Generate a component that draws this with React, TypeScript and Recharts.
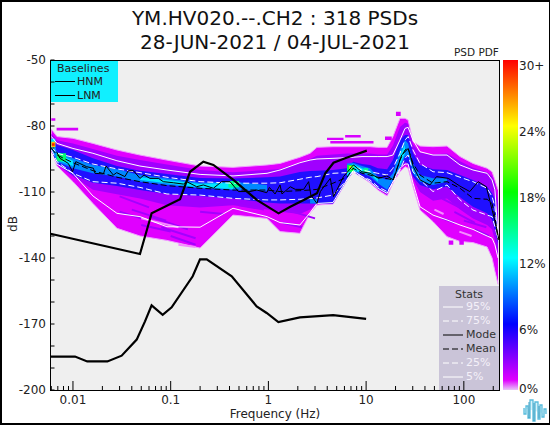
import { Area, ComposedChart, Line, XAxis, YAxis } from 'recharts';

const freqs = [
  0.00603, 0.00686, 0.01, 0.016, 0.0282, 0.0485, 0.0916, 0.2, 0.4345, 0.968, 1.315, 2.1, 2.67, 3.14, 4.58, 6.37, 7.35,
  9.08, 10.96, 13.2, 16.4, 18.8, 22.2, 25, 26.9, 30.2, 35.6, 48.4, 67.3, 91.4, 124, 173, 194.5, 208, 224,
];

const p95 = [
  -84.8, -87.9, -90.2, -92.4, -95.8, -98.2, -100, -102, -102.7, -101.5, -100, -96.7, -95.5, -95, -94.7, -94.4, -94.2,
  -93.9, -93.9, -93.9, -93.9, -93.2, -86.4, -81.1, -80.6, -86.4, -91.7, -93.2, -93.2, -97.7, -100, -101.5, -104.5, -109, -130,
];
const p75 = [
  -89.4, -92.4, -94.2, -97.3, -99.5, -101.2, -103.3, -105.3, -106, -106, -105.8, -104.2, -103.3, -103, -101.5, -101.2, -98.2,
  -100, -100.8, -101.5, -102.3, -99.2, -92.4, -86.4, -84.8, -90.9, -97, -100.8, -101.2, -103.3, -105.3, -108.3, -112.1, -116.7, -131.8,
];
const meanDb = [
  -90.2, -93.2, -96.7, -100.3, -103.3, -105.3, -107.1, -108.3, -109.1, -109.1, -109.8, -109.4, -109.1, -108.8, -106, -103.3, -99.2,
  -101.5, -102.3, -103.3, -103.9, -104.5, -95.5, -90.9, -90.2, -97, -102.3, -106, -105.3, -108.3, -112.9, -113.3, -115.2, -121.2, -131.8,
];
const p25 = [
  -90.9, -96.2, -101.5, -105.3, -106, -107.9, -110.9, -111.4, -112.9, -113.6, -113.6, -113.3, -113, -112.7, -111.4, -104.5, -100.8,
  -103, -104.5, -107.6, -109.8, -106, -100, -94.7, -93.2, -100.8, -104.5, -109.8, -106.8, -113.6, -118.2, -120.5, -121.2, -125.8, -131.8,
];
const p5 = [
  -92.4, -97.3, -101.5, -111.8, -119.7, -121.2, -125.8, -126, -117.4, -121.2, -123.9, -125, -119.4, -115.2, -114.8, -104.5, -100.3,
  -103, -105.3, -108.3, -110.6, -105.3, -99.2, -97.3, -97.3, -106, -116.7, -120.5, -122.7, -125, -127, -130, -131, -134, -140,
];

const modeFreqs = [
  0.0068, 0.00736, 0.00896, 0.0099, 0.0107, 0.0138, 0.0162, 0.0168, 0.0205, 0.0218, 0.0259, 0.028, 0.034, 0.0369, 0.0415, 0.0485,
  0.0533, 0.0614, 0.0748, 0.0841, 0.1064, 0.1349, 0.1459, 0.1845, 0.2158, 0.2735, 0.3327, 0.4055, 0.4932, 0.6486, 0.7603, 0.9616,
  1.023, 1.17, 1.315, 1.377, 1.675, 1.886, 2.296, 2.58, 2.72, 3.14, 3.4, 4.3, 4.64, 5.87, 7.43, 9.03, 11, 13.4, 16.3, 19, 23.1, 27,
  30.4, 35.6, 45, 52.6, 69.2, 91, 115, 140, 170, 215, 229,
];
const modeDb = [
  -91.7, -94.7, -97, -100.8, -96.2, -98.5, -99.2, -101.5, -101.8, -98.2, -102.3, -101.2, -103, -100.3, -100.3, -103.8,
  -102.3, -103.8, -103.8, -105.3, -105.8, -106.4, -105.3, -107.6, -106.8, -108.3, -105.3, -105.3, -109.8, -109.8, -109.1, -110.3,
  -107.9, -110.9, -106.8, -110.9, -107.6, -108.8, -108.8, -105.3, -111.4, -115.2, -109.8, -103.8, -112.1, -103, -97.7, -100.8, -101.5, -103.8, -102.7, -104.5, -93.2, -90.2,
  -98.5, -104.5, -106.8, -103, -103.8, -107.3, -109.8, -105.3, -107.6, -125.8, -131.8,
];

const hnmFreqs = [0.0059, 0.0485, 0.059, 0.0638, 0.1247, 0.1578, 0.2158, 0.2735, 0.4385, 0.76, 1.27, 1.675, 2.3, 3.14, 3.82, 4.64, 6.1, 10.16];
const hnmDb = [-129, -138.2, -125, -119.7, -113.3, -100.8, -96.2, -97.7, -104.5, -113.6, -119.7, -116.7, -113.6, -110.6, -101.5, -96.7, -94.7, -91.2];
const lnmFreqs = [0.0059, 0.0105, 0.014, 0.0225, 0.0315, 0.0449, 0.0546, 0.0638, 0.0828, 0.1023, 0.168, 0.1995, 0.2337, 0.4217, 0.7586, 0.96, 1.265, 2.1, 4.6, 10];
const lnmDb = [-184.8, -184.8, -187, -187, -184.4, -177.1, -168.8, -161.5, -165.8, -162.4, -148.3, -140.6, -140.6, -148.3, -162, -165, -169.1, -167, -166, -167.7];

// density bands of the PDF, outermost first
const purpleHi = [
  -81.5, -84.8, -85.6, -87.9, -90.9, -93.2, -95.5, -98.2, -98.8, -97.7, -97, -94.2, -92.4, -89.7, -89.4, -89.4, -89.4,
  -89.4, -89.4, -89.7, -89.7, -84.8, -76.5, -76.5, -77.3, -87.1, -89.1, -89.4, -89.1, -93.9, -97, -99.2, -100.8, -104.5, -109,
];
const purpleLo = [
  -91.7, -98.2, -105.3, -115.2, -126.5, -130, -132, -135.5, -120.5, -122, -128, -128.8, -119.7, -115.9, -115.5, -104.8, -100.8,
  -103.3, -105.8, -109.1, -111.8, -106, -100.8, -98.5, -99.2, -107.6, -118.2, -123.5, -130.3, -132.5, -133, -135, -140, -146, -152,
];
const violetHi = [
  -83.5, -86.5, -88, -90.5, -93.5, -95.5, -97.5, -100, -101, -100, -99.5, -96.5, -95, -93.5, -93, -92.5, -92.5,
  -92.5, -92.5, -93, -93, -89, -80.5, -78.5, -79, -88.5, -92, -93, -92.5, -96, -99, -101, -103, -106, -115,
];
const violetLo = [
  -91.5, -97.5, -103, -109, -111, -113, -116, -117, -116, -118, -119, -120, -118, -115.6, -115.2, -104.6, -100.6,
  -103.2, -105.5, -108.7, -111.2, -105.6, -100, -97.4, -98, -104, -110, -114, -113, -118, -122, -125, -127, -132, -140,
];
const blueHi = [
  -86.4, -88.6, -90.9, -94.7, -98.2, -100.3, -101.8, -103.6, -103.9, -103.3, -103, -100.9, -100.5, -100.3, -100, -99.2, -96.2,
  -97.3, -97.7, -99.2, -99.7, -95.5, -86.4, -84.1, -84.1, -92.4, -97.7, -99.7, -100, -102.3, -104.5, -107.6, -110.6, -113.6, -127.3,
];
const blueLo = [
  -91.2, -97, -102.3, -105.8, -107.3, -109.1, -110.9, -111.8, -112.9, -114.8, -115.2, -115.2, -115.2, -115.2, -115.2, -104.8, -100.8,
  -103.3, -105.3, -108.3, -110.6, -105.3, -99.2, -96.2, -97, -103, -106.8, -108.8, -107.6, -112.4, -116.7, -119.7, -122.7, -127.3, -133.3,
];
const azureHi = [
  -86.1, -91.7, -94.7, -97.7, -99.7, -102.3, -103.8, -105.8, -105.3, -106.8, null, null, -112.9, -113.3, null, -97, -96.7,
  -98.2, -99.2, -103, -104.5, -101.5, -90.9, -86.4, -87.9, -97, -102.3, -103.8, -103.8, null, null, null, null, null, null,
];
const azureLo = [
  -90.9, -96.2, -99.2, -101.5, -103, -105.3, -106.8, -108.3, -109.1, -109.4, null, null, -115.2, -115.2, null, -103.8, -100.8,
  -101.5, -103, -106, -109, -104.5, -99.2, -93.9, -93.2, -101.5, -105.3, -106.8, -105.3, null, null, null, null, null, null,
];
const cyanHi = [
  null, -92.4, -95.8, null, null, -103.3, -104.5, -106.4, -105.8, null, null, null, null, null, null, -99.2, -97.3,
  -99.2, -100.8, -103.8, null, null, -93.2, -88.6, null, null, null, null, null, null, null, null, null, null, null,
];
const cyanLo = [
  null, -95.5, -98.2, null, null, -104.5, -106, -107.9, -108.6, null, null, null, null, null, null, -103, -100.3,
  -100.9, -101.8, -105.3, null, null, -97.7, -92.4, null, null, null, null, null, null, null, null, null, null, null,
];

// small isolated blotches: [low freq, high freq, top dB, bottom dB, colour]
const blotches: [number, number, number, number, string][] = [
  [0.006, 0.0066, -76.5, -77.6, '#d800ff'],
  [0.0068, 0.0113, -80.8, -82.1, '#d800ff'],
  [3.98, 5.87, -85.3, -86.4, '#d800ff'],
  [6.1, 8.8, -84.1, -85.2, '#d800ff'],
  [4.3, 11.9, -86.8, -87.9, '#d800ff'],
  [15.6, 18.3, -84.8, -86.4, '#d800ff'],
  [20.2, 22.6, -73.5, -75.5, '#d800ff'],
  [70, 78, -132, -134, '#d800ff'],
  [90, 100, -132, -134, '#d800ff'],
  [0.006, 0.0066, -85.8, -90.4, '#00e8ff'],
  [0.006, 0.0066, -87.2, -89.6, '#ffc000'],
  [0.0061, 0.0065, -87.8, -89, '#ff2000'],
  [0.0068, 0.0085, -92.4, -96, '#00ff70'],
  [0.39, 0.5, -105, -108, '#00ff90'],
  [6.4, 7.5, -97.7, -100.8, '#00ff40'],
  [6.7, 7.1, -98.2, -99.6, '#c8ff00'],
  [9.4, 10.5, -99.2, -101, '#00ff90'],
];

// streaks in the sparse part of the PDF: [freq, dB, freq, dB]
const darkStreaks: [number, number, number, number][] = [
  [0.03, -112, 0.06, -117],
  [0.04, -118, 0.09, -123],
  [0.03, -119, 0.05, -122],
  [0.06, -121, 0.15, -127],
  [0.08, -126, 0.18, -131],
  [0.1, -130, 0.18, -134],
  [0.05, -125, 0.1, -128],
  [0.2, -119, 0.35, -120],
  [0.5, -116, 0.9, -118],
  [1.5, -118, 3, -122],
  [1.4, -124, 2.2, -126],
  [60, -113, 90, -117],
  [80, -119, 130, -124],
  [100, -123, 170, -126],
  [60, -122, 80, -124],
  [130, -127, 180, -130],
];
const paleStreaks: [number, number, number, number][] = [
  [0.05, -122, 0.12, -126],
  [0.12, -134, 0.18, -135],
  [90, -128, 120, -130],
  [50, -118, 62, -120],
];

const dbTicks = [-200, -190, -180, -170, -160, -150, -140, -130, -120, -110, -100, -90, -80, -70, -60, -50];
const dbLabels = [-200, -170, -140, -110, -80, -50];
const freqTicks = [
  0.006, 0.007, 0.008, 0.009, 0.01, 0.02, 0.03, 0.04, 0.05, 0.06, 0.07, 0.08, 0.09, 0.1, 0.2, 0.3, 0.4, 0.5, 0.6, 0.7, 0.8, 0.9, 1,
  2, 3, 4, 5, 6, 7, 8, 9, 10, 20, 30, 40, 50, 60, 70, 80, 90, 100, 200,
];
const freqLabels: Record<number, string> = { 0.01: '0.01', 0.1: '0.1', 1: '1', 10: '10', 100: '100' };
const pdfLabels = ['30+', '24%', '18%', '12%', '6%', '0%'];
const statRows: [string, string, string][] = [
  ['95%', '#ffffff', ''],
  ['75%', '#ffffff', '6 3'],
  ['Mode', '#000000', ''],
  ['Mean', '#000000', '6 3'],
  ['25%', '#ffffff', '6 3'],
  ['5%', '#ffffff', ''],
];

const font = '"DejaVu Sans", sans-serif';

const rows = freqs.map((f, i) => ({
  f,
  p95: p95[i],
  p75: p75[i],
  mean: meanDb[i],
  p25: p25[i],
  p5: p5[i],
  purple: [purpleLo[i], purpleHi[i]],
  violet: [violetLo[i], violetHi[i]],
  blue: [blueLo[i], blueHi[i]],
  azure: azureHi[i] === null ? null : [azureLo[i], azureHi[i]],
  cyan: cyanHi[i] === null ? null : [cyanLo[i], cyanHi[i]],
}));
const modeRows = modeFreqs.map((f, i) => ({ f, db: modeDb[i] }));
const hnmRows = hnmFreqs.map((f, i) => ({ f, db: hnmDb[i] }));
const lnmRows = lnmFreqs.map((f, i) => ({ f, db: lnmDb[i] }));

function DbTick({ y, payload }: any) {
  const label = dbLabels.includes(payload.value);
  return (
    <g>
      <line x1={50.5} x2={54.5} y1={y} y2={y} stroke="#000" />
      {label ? (
        <text x={46} y={y + 4} textAnchor="end" fontSize={12} fontFamily={font} fill="#222">
          {payload.value}
        </text>
      ) : null}
    </g>
  );
}

function FreqTick({ x, payload }: any) {
  const label = freqLabels[payload.value];
  return (
    <g>
      <line x1={x} x2={x} y1={390} y2={label ? 381 : 386} stroke="#000" />
      {label ? (
        <text x={x} y={404} textAnchor="middle" fontSize={12} fontFamily={font} fill="#222">
          {label}
        </text>
      ) : null}
    </g>
  );
}

function BaselinesBox() {
  return (
    <div style={{ position: 'absolute', left: 51, top: 61, width: 67, height: 41, background: '#10f0ff', color: '#222', fontSize: 11, fontFamily: font }}>
      <div style={{ position: 'absolute', left: 6, top: 1 }}>Baselines</div>
      {['HNM', 'LNM'].map((name, i) => (
        <div key={name} style={{ position: 'absolute', left: 26, top: 14 + i * 14 }}>
          {name}
        </div>
      ))}
      {[0, 1].map((i) => (
        <div key={i} style={{ position: 'absolute', left: 4, top: 20 + i * 14, width: 20, height: 1, background: '#000' }} />
      ))}
    </div>
  );
}

function StatsBox() {
  return (
    <div style={{ position: 'absolute', left: 439, top: 286, width: 60, height: 104, background: '#cac4d8', fontSize: 11, fontFamily: font }}>
      <div style={{ position: 'absolute', left: 16, top: 2, color: '#333' }}>Stats</div>
      {statRows.map(([name, color, dash], i) => (
        <div key={name}>
          <svg width={20} height={3} style={{ position: 'absolute', left: 4, top: 20 + i * 14 }}>
            <line x1={0} x2={20} y1={1} y2={1} stroke={color} strokeDasharray={dash} />
          </svg>
          <div style={{ position: 'absolute', left: 27, top: 14 + i * 14, color: color === '#000000' ? '#333' : '#f4f0f8' }}>{name}</div>
        </div>
      ))}
    </div>
  );
}

function PdfBar() {
  return (
    <>
      <div
        style={{
          position: 'absolute',
          left: 503,
          top: 60,
          width: 15,
          height: 330,
          background:
            'linear-gradient(to bottom, #ff0000 0%, #ffff00 20%, #00ff00 40%, #00ffff 60%, #0000ff 80%, #e000ff 97%, #e8c8f8 100%)',
        }}
      />
      {pdfLabels.map((label, i) => (
        <div key={label} style={{ position: 'absolute', left: 519, top: 59 + i * 66 - (i === 5 ? 7 : 0), fontSize: 12, fontFamily: font, color: '#222' }}>
          {label}
        </div>
      ))}
    </>
  );
}

function Logo() {
  return (
    <svg width={26} height={28} style={{ position: 'absolute', left: 522, top: 396 }}>
      <path d="M2 12v6h2v-8h2v12h2V4h3v21h2V6h3v17h2V9h2v12h2V13h2v5" fill="#d8f2fa" stroke="#58bcdc" strokeWidth={1.3} />
      <path d="M7 6v16M12 7v18M17 10v12" fill="none" stroke="#3a9cc0" strokeWidth={1} />
    </svg>
  );
}

function streakLine(s: [number, number, number, number], color: string, key: string) {
  return (
    <Line
      key={key}
      data={[
        { f: s[0], db: s[1] },
        { f: s[2], db: s[3] },
      ]}
      dataKey="db"
      stroke={color}
      strokeWidth={2}
      dot={false}
      isAnimationActive={false}
    />
  );
}

export default function App() {
  return (
    <div style={{ position: 'absolute', left: 0, top: 0, width: 550, height: 425, background: '#fff', overflow: 'hidden' }}>
      <div style={{ position: 'absolute', left: 51, top: 60, width: 448, height: 330, background: '#efefef' }} />
      <BaselinesBox />
      <StatsBox />
      <div style={{ position: 'absolute', left: 0, top: 6, width: 550, textAlign: 'center', fontSize: 20, lineHeight: '24px', fontFamily: font, color: '#111' }}>
        YM.HV020.--.CH2 : 318 PSDs
        <br />
        28-JUN-2021 / 04-JUL-2021
      </div>
      <div style={{ position: 'absolute', left: 454, top: 46, fontSize: 10.5, fontFamily: font, color: '#222' }}>PSD PDF</div>
      <PdfBar />
      <Logo />
      <div style={{ position: 'absolute', left: 0, top: 407, width: 550, textAlign: 'center', fontSize: 12, fontFamily: font, color: '#222' }}>Frequency (Hz)</div>
      <div style={{ position: 'absolute', left: 5, top: 217, fontSize: 12, fontFamily: font, color: '#222', transform: 'rotate(-90deg)' }}>dB</div>
      <div style={{ position: 'absolute', left: 0, top: 0 }}>
        <ComposedChart width={550} height={425} data={rows} margin={{ top: 60, right: 51, bottom: 0, left: 0 }}>
          <XAxis
            dataKey="f"
            type="number"
            scale="log"
            domain={[0.00589, 229]}
            allowDataOverflow
            ticks={freqTicks}
            interval={0}
            tick={<FreqTick />}
            tickLine={false}
            axisLine={false}
            height={35}
          />
          <YAxis
            type="number"
            domain={[-200, -50]}
            allowDataOverflow
            ticks={dbTicks}
            interval={0}
            tick={<DbTick />}
            tickLine={false}
            axisLine={false}
            width={50.5}
          />
          <Area dataKey="purple" stroke="#f0a0ff" strokeWidth={1} fill="#e000ff" fillOpacity={1} dot={false} activeDot={false} isAnimationActive={false} />
          {darkStreaks.map((s, i) => streakLine(s, '#a400ff', `dark-${i}`))}
          {paleStreaks.map((s, i) => streakLine(s, '#f48cff', `pale-${i}`))}
          <Area dataKey="violet" stroke="none" fill="#a000ff" fillOpacity={1} dot={false} activeDot={false} isAnimationActive={false} />
          <Area dataKey="blue" stroke="none" fill="#2010ff" fillOpacity={1} dot={false} activeDot={false} isAnimationActive={false} />
          <Area dataKey="azure" stroke="none" fill="#0088ff" fillOpacity={1} dot={false} activeDot={false} isAnimationActive={false} />
          <Area dataKey="cyan" stroke="none" fill="#00e8ff" fillOpacity={1} dot={false} activeDot={false} isAnimationActive={false} />
          {blotches.map(([lo, hi, top, bottom, color]) => (
            <Area
              key={`${lo}-${top}`}
              data={[
                { f: lo, band: [bottom, top] },
                { f: hi, band: [bottom, top] },
              ]}
              dataKey="band"
              stroke="none"
              fill={color}
              fillOpacity={1}
              dot={false}
              activeDot={false}
              isAnimationActive={false}
            />
          ))}
          <Line dataKey="p95" stroke="#fff" strokeWidth={1} dot={false} isAnimationActive={false} />
          <Line dataKey="p75" stroke="#fff" strokeWidth={1} strokeDasharray="6 3" dot={false} isAnimationActive={false} />
          <Line dataKey="p25" stroke="#fff" strokeWidth={1} strokeDasharray="6 3" dot={false} isAnimationActive={false} />
          <Line dataKey="p5" stroke="#fff" strokeWidth={1} dot={false} isAnimationActive={false} />
          <Line dataKey="mean" stroke="#000" strokeWidth={1} strokeDasharray="6 3" dot={false} isAnimationActive={false} />
          <Line data={modeRows} dataKey="db" stroke="#000" strokeWidth={1} dot={false} isAnimationActive={false} />
          <Line data={hnmRows} dataKey="db" stroke="#000" strokeWidth={2.2} dot={false} isAnimationActive={false} />
          <Line data={lnmRows} dataKey="db" stroke="#000" strokeWidth={2.2} dot={false} isAnimationActive={false} />
        </ComposedChart>
      </div>
      <div style={{ position: 'absolute', left: 50, top: 60, width: 448, height: 329, border: '1px solid #000', pointerEvents: 'none' }} />
      <div style={{ position: 'absolute', left: 0, top: 0, width: 547, height: 421, borderLeft: '2px solid #000', borderTop: '2px solid #000', borderRight: '1px solid #000', borderBottom: '2px solid #000', pointerEvents: 'none' }} />
    </div>
  );
}
